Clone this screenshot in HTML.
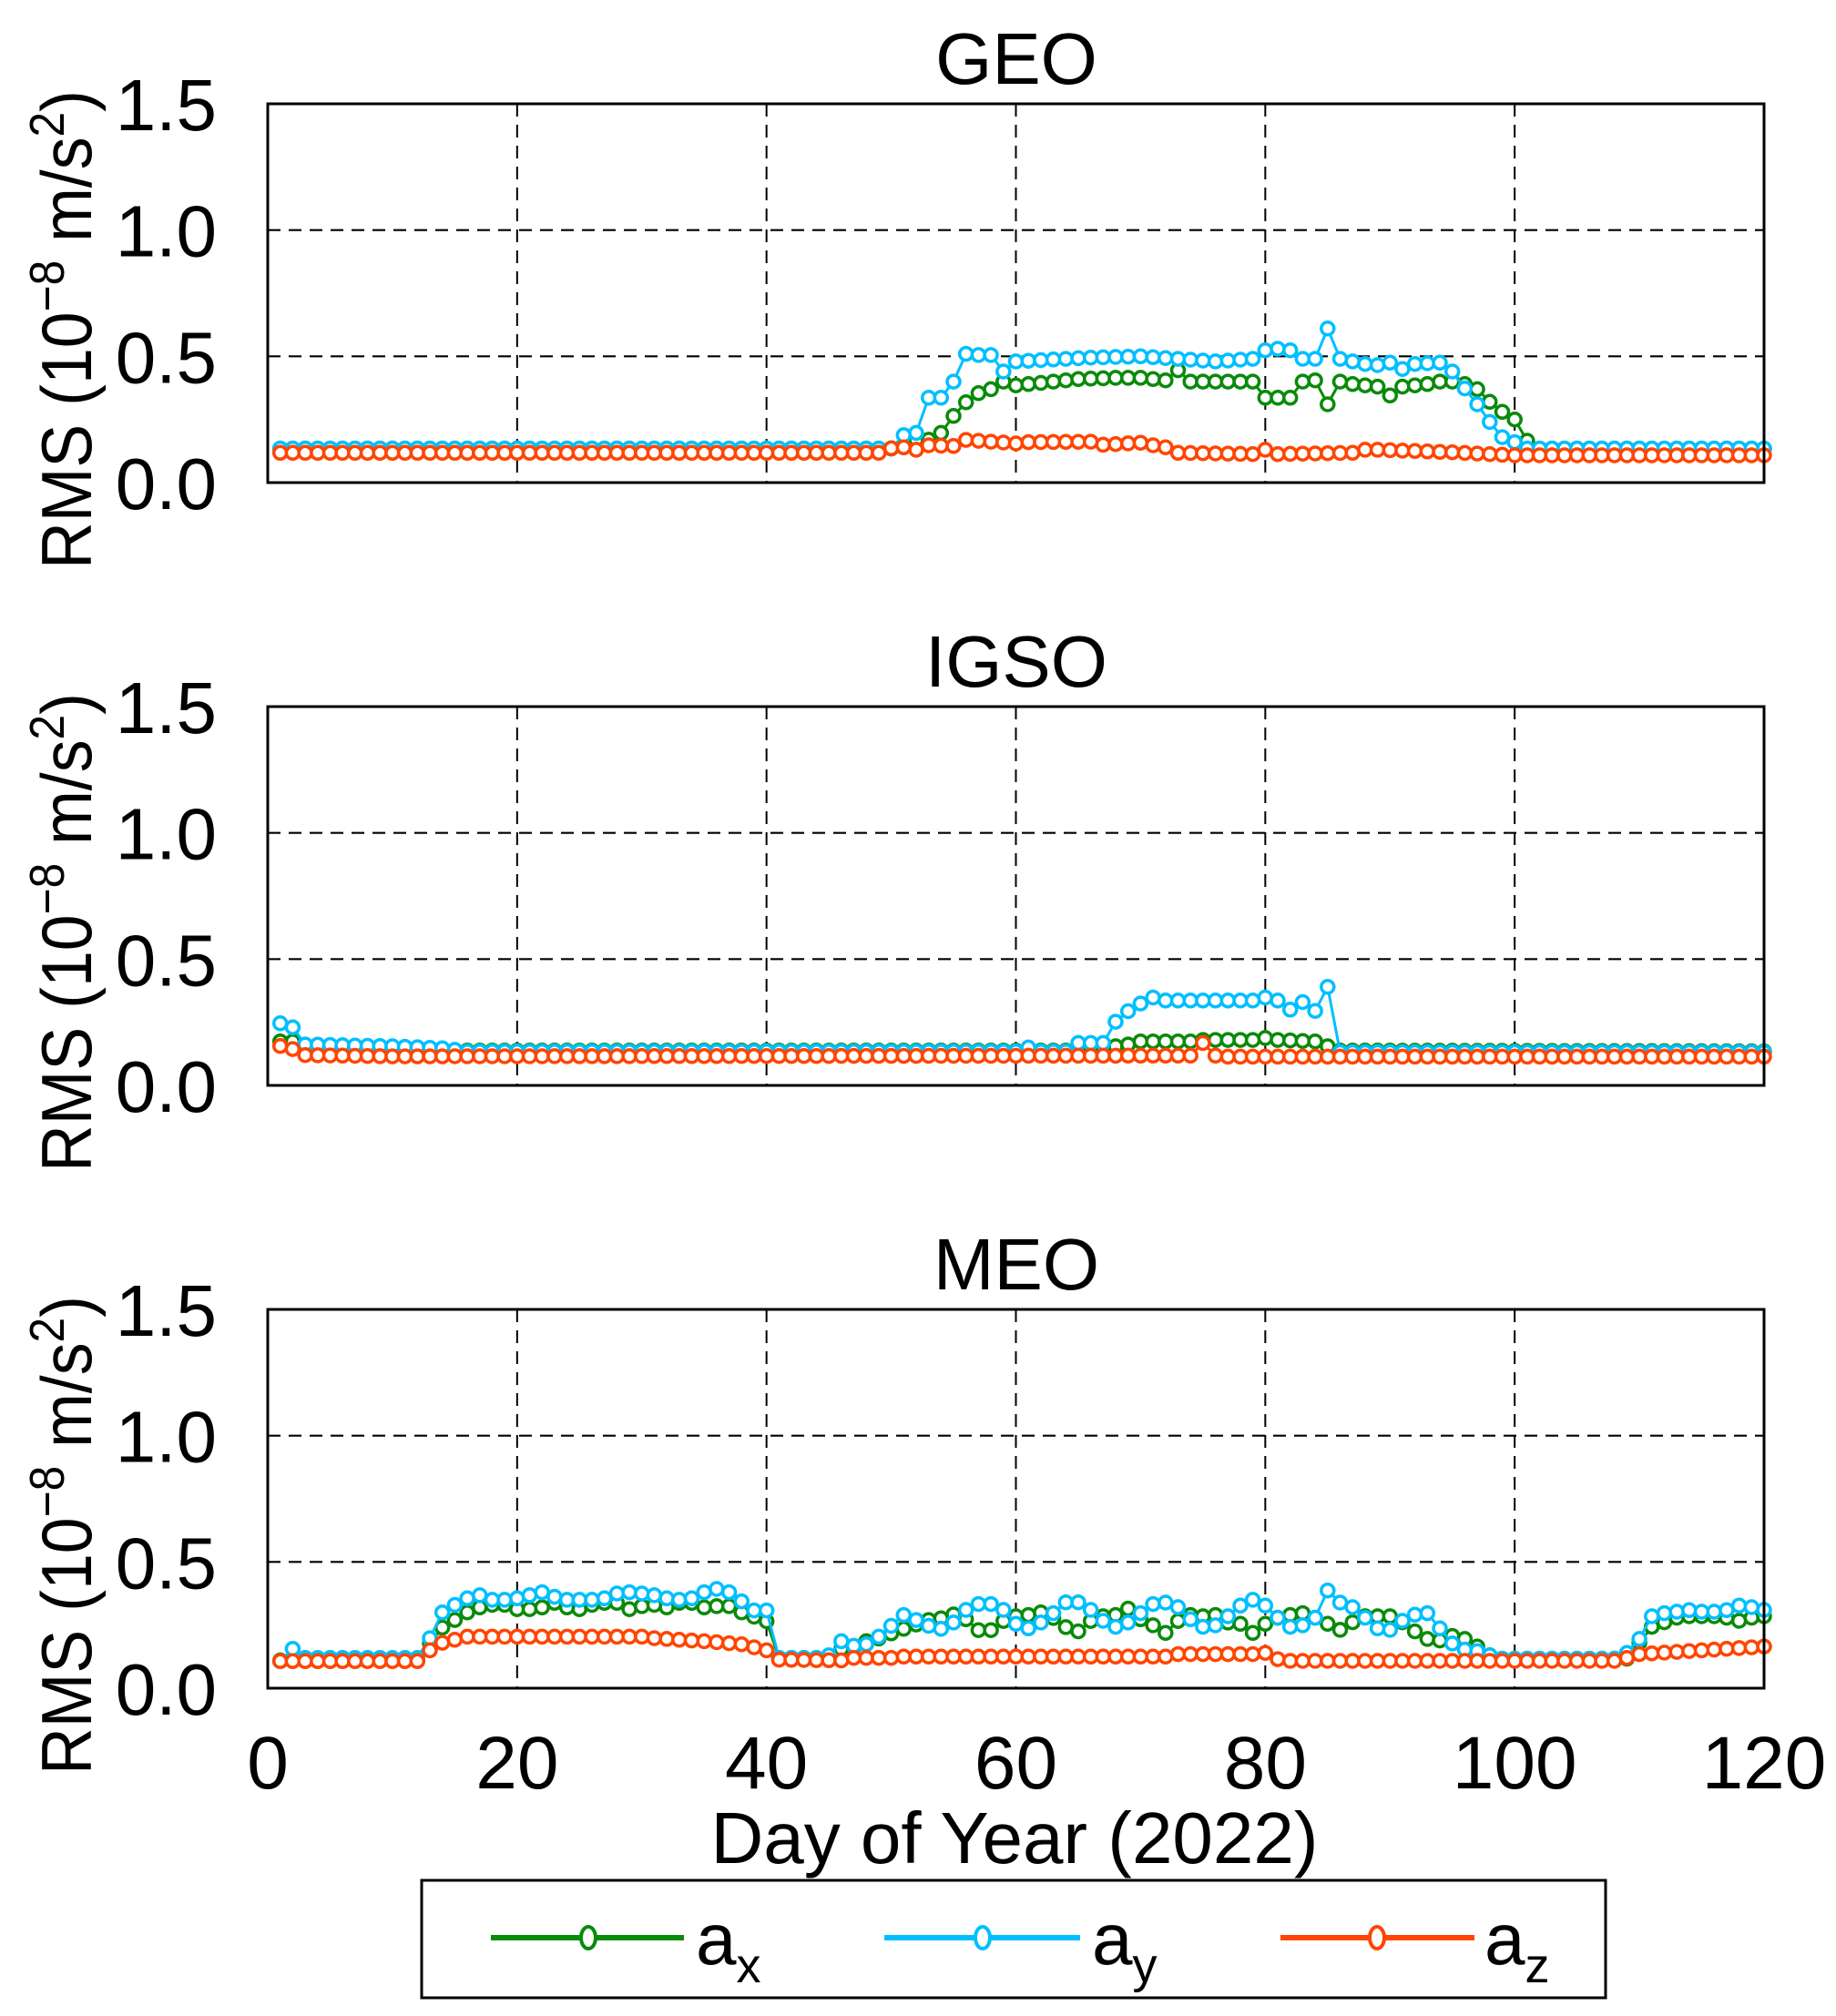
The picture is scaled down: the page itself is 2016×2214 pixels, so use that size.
<!DOCTYPE html>
<html><head><meta charset="utf-8"><style>
html,body{margin:0;padding:0;background:#fff;}
svg{display:block;}
text{font-family:"Liberation Sans",Arial,sans-serif;fill:#000;}
</style></head><body>
<svg id="s" width="2016" height="2214" viewBox="0 0 2016 2214" xmlns="http://www.w3.org/2000/svg"></svg>
<script>
const S=document.getElementById('s');
let h='';
const X0=294,X1=1937,H=416;
const tops=[114,776,1438];
const titles=['GEO','IGSO','MEO'];
const C={x:'#0a8a0a',y:'#00bfff',z:'#ff4500'};
function xs(d){return X0+(X1-X0)*d/120;}
function interp(keys){const a=[];for(let d=1;d<=120;d++){let v;for(let i=0;i<keys.length-1;i++){const[k0,v0]=keys[i],[k1,v1]=keys[i+1];if(d>=k0&&d<=k1){v=k1==k0?v0:v0+(v1-v0)*(d-k0)/(k1-k0);break;}}if(v===undefined)v=keys[keys.length-1][1];a.push(v);}return a;}
const D=[
{ // GEO
x:interp([[1,0.135],[50,0.135],[51,0.14],[52,0.17],[53,0.17],[54,0.197],[55,0.264],[56,0.318],[57,0.354],[58,0.37],[59,0.40],[60,0.385],[61,0.39],[62,0.395],[63,0.40],[64,0.405],[65,0.41],[68,0.415],[70,0.415],[71,0.41],[72,0.405],[73,0.445],[74,0.40],[79,0.40],[80,0.336],[82,0.336],[83,0.40],[84,0.405],[85,0.31],[86,0.40],[87,0.39],[88,0.385],[89,0.38],[90,0.345],[91,0.38],[92,0.385],[93,0.39],[94,0.40],[95,0.40],[96,0.39],[97,0.37],[98,0.32],[99,0.28],[100,0.25],[101,0.166],[102,0.135],[120,0.135]]),
y:interp([[1,0.135],[50,0.135],[51,0.188],[52,0.197],[53,0.336],[54,0.336],[55,0.40],[56,0.51],[57,0.505],[58,0.505],[59,0.44],[60,0.48],[66,0.495],[70,0.50],[76,0.48],[79,0.49],[80,0.524],[81,0.53],[82,0.524],[83,0.49],[84,0.49],[85,0.61],[86,0.49],[87,0.48],[88,0.47],[89,0.465],[90,0.475],[91,0.45],[92,0.47],[94,0.475],[95,0.44],[96,0.373],[97,0.31],[98,0.24],[99,0.18],[100,0.16],[101,0.135],[120,0.135]]),
z:interp([[1,0.118],[49,0.118],[50,0.136],[51,0.14],[52,0.13],[53,0.148],[55,0.145],[56,0.169],[60,0.155],[61,0.16],[66,0.162],[67,0.150],[70,0.158],[71,0.148],[72,0.14],[73,0.118],[79,0.113],[80,0.13],[81,0.113],[87,0.118],[88,0.13],[89,0.13],[95,0.12],[100,0.108],[120,0.108]])
},
{ // IGSO
x:interp([[1,0.174],[2,0.174],[3,0.15],[4,0.138],[65,0.138],[67,0.15],[68,0.155],[69,0.162],[70,0.174],[74,0.174],[75,0.18],[79,0.18],[80,0.188],[81,0.18],[84,0.174],[85,0.155],[86,0.138],[120,0.135]]),
y:interp([[1,0.246],[2,0.23],[3,0.162],[10,0.155],[14,0.147],[16,0.135],[60,0.135],[61,0.15],[62,0.135],[64,0.135],[65,0.168],[67,0.168],[68,0.252],[69,0.294],[70,0.324],[71,0.348],[72,0.336],[79,0.336],[80,0.348],[81,0.336],[82,0.30],[83,0.33],[84,0.295],[85,0.39],[86,0.132],[120,0.132]]),
z:interp([[1,0.156],[2,0.144],[3,0.12],[10,0.115],[74,0.118],[75,0.168],[76,0.118],[77,0.114],[120,0.114]])
},
{ // MEO
x:interp([[1,0.11],[12,0.11],[13,0.178],[14,0.24],[15,0.27],[16,0.30],[17,0.32],[18,0.33],[19,0.33],[20,0.313],[21,0.313],[22,0.32],[23,0.338],[24,0.32],[25,0.313],[26,0.33],[27,0.338],[28,0.338],[29,0.313],[30,0.325],[31,0.33],[32,0.32],[33,0.338],[34,0.338],[35,0.32],[36,0.325],[37,0.325],[38,0.30],[39,0.283],[40,0.265],[41,0.12],[45,0.12],[46,0.156],[47,0.162],[48,0.186],[49,0.197],[50,0.217],[51,0.235],[52,0.252],[53,0.27],[54,0.277],[55,0.292],[56,0.273],[57,0.23],[58,0.23],[59,0.266],[60,0.285],[61,0.29],[62,0.30],[63,0.278],[64,0.242],[65,0.225],[66,0.266],[67,0.285],[68,0.29],[69,0.315],[70,0.273],[71,0.249],[72,0.219],[73,0.266],[74,0.29],[75,0.285],[76,0.29],[77,0.26],[78,0.255],[79,0.219],[80,0.255],[81,0.279],[82,0.29],[83,0.297],[84,0.279],[85,0.255],[86,0.231],[87,0.261],[88,0.285],[89,0.285],[90,0.285],[91,0.261],[92,0.225],[93,0.195],[94,0.189],[95,0.207],[96,0.195],[97,0.165],[98,0.13],[99,0.117],[109,0.117],[110,0.18],[111,0.243],[112,0.261],[113,0.279],[114,0.285],[116,0.285],[117,0.279],[118,0.267],[119,0.279],[120,0.285]]),
y:interp([[1,0.107],[2,0.156],[3,0.12],[12,0.12],[13,0.198],[14,0.30],[15,0.33],[16,0.356],[17,0.368],[18,0.35],[19,0.35],[20,0.356],[21,0.368],[22,0.38],[23,0.362],[24,0.35],[26,0.35],[27,0.356],[28,0.375],[29,0.38],[30,0.375],[31,0.368],[32,0.356],[33,0.35],[34,0.356],[35,0.38],[36,0.393],[37,0.38],[38,0.344],[39,0.308],[40,0.308],[41,0.12],[44,0.12],[45,0.13],[46,0.186],[47,0.168],[48,0.174],[49,0.204],[50,0.247],[51,0.29],[52,0.27],[53,0.247],[54,0.235],[55,0.26],[56,0.31],[57,0.333],[58,0.333],[59,0.31],[60,0.255],[61,0.237],[62,0.26],[63,0.297],[64,0.34],[65,0.34],[66,0.31],[67,0.267],[68,0.243],[69,0.26],[70,0.297],[71,0.333],[72,0.339],[73,0.321],[74,0.273],[75,0.243],[76,0.249],[77,0.285],[78,0.327],[79,0.35],[80,0.327],[81,0.279],[82,0.243],[83,0.249],[84,0.279],[85,0.387],[86,0.339],[87,0.321],[88,0.279],[89,0.237],[90,0.231],[91,0.267],[92,0.291],[93,0.297],[94,0.237],[95,0.177],[96,0.153],[97,0.147],[98,0.13],[99,0.117],[108,0.117],[109,0.14],[110,0.195],[111,0.285],[112,0.297],[113,0.303],[114,0.309],[115,0.303],[116,0.303],[117,0.309],[118,0.327],[119,0.321],[120,0.31]]),
z:interp([[1,0.107],[12,0.107],[13,0.15],[14,0.18],[15,0.192],[16,0.204],[30,0.204],[31,0.198],[35,0.186],[38,0.174],[39,0.162],[40,0.15],[41,0.113],[46,0.11],[47,0.12],[50,0.12],[51,0.125],[72,0.125],[73,0.135],[79,0.135],[80,0.14],[81,0.115],[82,0.108],[108,0.108],[109,0.12],[110,0.135],[120,0.165]])
}];
for(let p=0;p<3;p++){
 const T=tops[p],B=T+H;const ys=v=>B-v*H/1.5;
 for(let i=1;i<=5;i++){const x=xs(i*20);h+=`<line x1="${x}" y1="${T}" x2="${x}" y2="${B}" stroke="#000" stroke-width="2" stroke-dasharray="14,9"/>`;}
 for(const v of [0.5,1.0]){h+=`<line x1="${X0}" y1="${ys(v)}" x2="${X1}" y2="${ys(v)}" stroke="#000" stroke-width="2.2" stroke-dasharray="14,9"/>`;}
 ['0.0','0.5','1.0','1.5'].forEach((t,i)=>{h+=`<text x="238" y="${ys(i*0.5)+29}" font-size="80" text-anchor="end">${t}</text>`;});
 h+=`<text x="1116" y="${T-22}" font-size="80" text-anchor="middle">${titles[p]}</text>`;
 h+=`<text transform="translate(100,${T+248}) rotate(-90)" font-size="78" text-anchor="middle" textLength="526" lengthAdjust="spacingAndGlyphs">RMS (10<tspan font-size="54" dy="-30">−8</tspan><tspan dy="30"> m/s</tspan><tspan font-size="54" dy="-30">2</tspan><tspan dy="30">)</tspan></text>`;
 for(const k of ['x','y','z']){
  const arr=D[p][k];let pts=arr.map((v,i)=>xs(i+1).toFixed(1)+','+ys(v).toFixed(1)).join(' ');
  h+=`<polyline points="${pts}" fill="none" stroke="${C[k]}" stroke-width="3"/>`;
  arr.forEach((v,i)=>{h+=`<circle cx="${xs(i+1).toFixed(1)}" cy="${ys(v).toFixed(1)}" r="7" fill="#fff" stroke="${C[k]}" stroke-width="3.5"/>`;});
 }
 h+=`<rect x="${X0}" y="${T}" width="${X1-X0}" height="${H}" fill="none" stroke="#000" stroke-width="3"/>`;
}
for(let i=0;i<=6;i++){h+=`<text x="${xs(i*20)}" y="1964" font-size="82" text-anchor="middle">${i*20}</text>`;}
h+=`<text x="1114" y="2046" font-size="80" text-anchor="middle">Day of Year (2022)</text>`;
h+=`<rect x="463" y="2065" width="1300" height="129" fill="#fff" stroke="#000" stroke-width="3"/>`;
const L=[['x',539,751,646,764],['y',971,1186,1079,1199],['z',1406,1619,1512,1630]];
for(const [k,a,b,m,t] of L){
 h+=`<line x1="${a}" y1="2128" x2="${b}" y2="2128" stroke="${C[k]}" stroke-width="6"/>`;
 h+=`<ellipse cx="${m}" cy="2128" rx="8" ry="12" fill="#fff" stroke="${C[k]}" stroke-width="4"/>`;
 h+=`<text x="${t}" y="2157" font-size="80">a<tspan font-size="54" dy="20">${k}</tspan></text>`;
}
S.innerHTML=h;
</script>
</body></html>
